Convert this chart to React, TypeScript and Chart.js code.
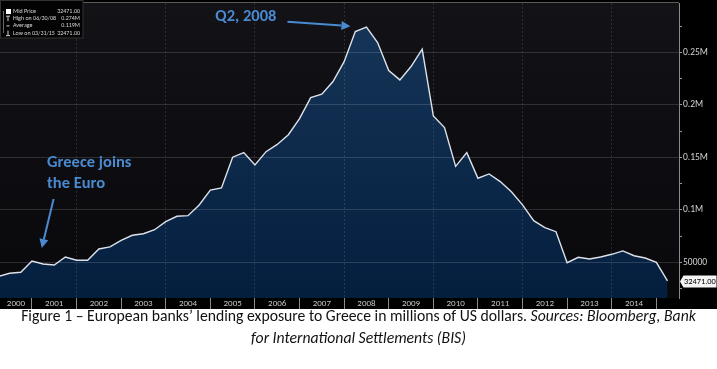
import React, { useEffect, useRef } from 'react';
import { Chart, registerables } from 'chart.js';

Chart.register(...registerables);

// ---------- data ----------
const QUARTERS = [
  '2000 Q1', '2000 Q2', '2000 Q3', '2000 Q4',
  '2001 Q1', '2001 Q2', '2001 Q3', '2001 Q4',
  '2002 Q1', '2002 Q2', '2002 Q3', '2002 Q4',
  '2003 Q1', '2003 Q2', '2003 Q3', '2003 Q4',
  '2004 Q1', '2004 Q2', '2004 Q3', '2004 Q4',
  '2005 Q1', '2005 Q2', '2005 Q3', '2005 Q4',
  '2006 Q1', '2006 Q2', '2006 Q3', '2006 Q4',
  '2007 Q1', '2007 Q2', '2007 Q3', '2007 Q4',
  '2008 Q1', '2008 Q2', '2008 Q3', '2008 Q4',
  '2009 Q1', '2009 Q2', '2009 Q3', '2009 Q4',
  '2010 Q1', '2010 Q2', '2010 Q3', '2010 Q4',
  '2011 Q1', '2011 Q2', '2011 Q3', '2011 Q4',
  '2012 Q1', '2012 Q2', '2012 Q3', '2012 Q4',
  '2013 Q1', '2013 Q2', '2013 Q3', '2013 Q4',
  '2014 Q1', '2014 Q2', '2014 Q3', '2014 Q4',
  '2015 Q1',
];

const EXPOSURE = [
  36700, 39700, 40700, 51400,
  48600, 47600, 55200, 52100,
  52100, 62900, 64800, 71100,
  75900, 77400, 81200, 88900,
  94000, 94600, 104800, 118900,
  121000, 150200, 154600, 142900,
  155500, 162400, 171600, 187000,
  207000, 210200, 222200, 241200,
  269800, 274000, 259300, 232700,
  223800, 236500, 253000, 189500,
  178400, 141500, 154600, 130200,
  134300, 127000, 117400, 104800,
  89800, 83100, 79300, 49800,
  54900, 53300, 55200, 57800,
  61000, 56400, 54300, 50200,
  32471,
];

const YEAR_LABELS = [
  '2000', '2001', '2002', '2003', '2004', '2005', '2006', '2007',
  '2008', '2009', '2010', '2011', '2012', '2013', '2014',
];

// right-axis ticks: every value gets a tick mark, labelled ones are in Y_TICK_LABELS
const Y_TICK_VALUES = [25000, 50000, 75000, 100000, 125000, 150000, 175000, 200000, 225000, 250000, 275000];
const Y_TICK_LABELS: Record<number, string> = {
  50000: '50000',
  100000: '0.1M',
  150000: '0.15M',
  200000: '0.2M',
  250000: '0.25M',
};

const LEGEND_NAMES = ['Mid Price', 'High on 06/30/08', 'Average', 'Low on 03/31/15'];
const LEGEND_VALUES = ['32471.00', '0.274M', '0.119M', '32471.00'];

const NOTE_PEAK_QUARTER = '2008 Q2';
const NOTE_PEAK_TEXT = ['Q2, 2008'];
const NOTE_EURO_QUARTER = '2001 Q1';
const NOTE_EURO_TEXT = ['Greece joins', 'the Euro'];

const CAPTION_MAIN = 'Figure 1 \u2013 European banks\u2019 lending exposure to Greece in millions of US dollars. ';
const CAPTION_SRC_1 = 'Sources: Bloomberg, Bank';
const CAPTION_SRC_2 = 'for International Settlements (BIS)';

// ---------- helpers / styles ----------
const X_MIN = 2000.284;
const X_MAX = 2015.508;
const Y_MIN = 16200;
const Y_MAX = 297000;

const CALIBRI = 'Carlito, Calibri, Lato, sans-serif';
const AXIS_FONT = 'Carlito, Calibri, sans-serif';
const NOTE_COLOR = '#4a8ad0';
const GRID = 'rgba(255,255,255,0.14)';

const toYear = (q: string) => {
  const [y, qq] = q.split(' Q');
  return Number(y) + Number(qq) * 0.25;
};

function drawArrow(ctx: CanvasRenderingContext2D, x1: number, y1: number, x2: number, y2: number) {
  const ang = Math.atan2(y2 - y1, x2 - x1);
  const head = 9;
  const hw = 4.5;
  const bx = x2 - Math.cos(ang) * head;
  const by = y2 - Math.sin(ang) * head;
  ctx.beginPath();
  ctx.moveTo(x1, y1);
  ctx.lineTo(bx, by);
  ctx.stroke();
  ctx.beginPath();
  ctx.moveTo(x2, y2);
  ctx.lineTo(bx + Math.sin(ang) * hw, by - Math.cos(ang) * hw);
  ctx.lineTo(bx - Math.sin(ang) * hw, by + Math.cos(ang) * hw);
  ctx.closePath();
  ctx.fill();
}

const bgPlugin = {
  id: 'bgPlugin',
  beforeDraw(chart: any) {
    const { ctx, chartArea: a, width, height } = chart;
    ctx.save();
    ctx.fillStyle = '#000';
    ctx.fillRect(0, 0, width, height);
    const g = ctx.createLinearGradient(0, a.top, 0, a.bottom);
    g.addColorStop(0, '#121217');
    g.addColorStop(1, '#09090c');
    ctx.fillStyle = g;
    ctx.fillRect(a.left, a.top, a.right - a.left, a.bottom - a.top);
    ctx.restore();
  },
};

const overlayPlugin = {
  id: 'overlayPlugin',
  afterDraw(chart: any) {
    const { ctx, chartArea: a, width } = chart;
    const xs = chart.scales.x;
    const ys = chart.scales.y;
    ctx.save();

    // top frame line
    ctx.strokeStyle = '#5a5a5a';
    ctx.lineWidth = 1;
    ctx.beginPath();
    ctx.moveTo(0, a.top - 0.5);
    ctx.lineTo(a.right, a.top - 0.5);
    ctx.stroke();

    // annotations
    ctx.fillStyle = NOTE_COLOR;
    ctx.strokeStyle = NOTE_COLOR;
    ctx.lineWidth = 2;
    ctx.font = `bold 16.5px ${CALIBRI}`;
    ctx.textBaseline = 'alphabetic';

    const ip = QUARTERS.indexOf(NOTE_PEAK_QUARTER);
    const ppx = xs.getPixelForValue(toYear(QUARTERS[ip]));
    const ppy = ys.getPixelForValue(EXPOSURE[ip]);
    drawArrow(ctx, ppx - 79, ppy - 5.5, ppx - 16, ppy - 1);
    ctx.textAlign = 'right';
    NOTE_PEAK_TEXT.forEach((t, k) => ctx.fillText(t, ppx - 90, ppy - 6 + k * 21));

    const ie = QUARTERS.indexOf(NOTE_EURO_QUARTER);
    const epx = xs.getPixelForValue(toYear(QUARTERS[ie]));
    const epy = ys.getPixelForValue(EXPOSURE[ie]);
    drawArrow(ctx, epx + 10.5, epy - 65, epx - 1.3, epy - 16);
    ctx.textAlign = 'left';
    NOTE_EURO_TEXT.forEach((t, k) => ctx.fillText(t, epx + 4, epy - 97 + k * 21));

    // legend box (top-left)
    ctx.fillStyle = '#030303';
    ctx.fillRect(0, 0, 83, 38);
    ctx.strokeStyle = '#333';
    ctx.lineWidth = 1;
    ctx.strokeRect(0.5, 0.5, 82.5, 37.5);
    ctx.font = `6px ${AXIS_FONT}`;
    ctx.textBaseline = 'middle';
    const rowY = (k: number) => 11.5 + k * 7.2;
    LEGEND_NAMES.forEach((n, k) => {
      ctx.fillStyle = '#d6d6d6';
      ctx.textAlign = 'left';
      ctx.fillText(n, 13, rowY(k));
      ctx.textAlign = 'right';
      ctx.fillText(LEGEND_VALUES[k], 80, rowY(k));
    });
    ctx.fillStyle = '#ffffff';
    ctx.fillRect(6, rowY(0) - 2.5, 5, 5);
    ctx.strokeStyle = '#cfcfcf';
    ctx.lineWidth = 1;
    ctx.beginPath();
    ctx.moveTo(6, rowY(1) - 2.5); ctx.lineTo(10, rowY(1) - 2.5);
    ctx.moveTo(8, rowY(1) - 2.5); ctx.lineTo(8, rowY(1) + 2.5);
    ctx.moveTo(6.5, rowY(2)); ctx.lineTo(9.5, rowY(2));
    ctx.moveTo(8, rowY(3) - 2.5); ctx.lineTo(8, rowY(3) + 2.5);
    ctx.moveTo(6, rowY(3) + 2.5); ctx.lineTo(10, rowY(3) + 2.5);
    ctx.stroke();
    ctx.setLineDash([1, 1]);
    ctx.beginPath();
    ctx.moveTo(3.5, rowY(0)); ctx.lineTo(3.5, rowY(3));
    ctx.stroke();
    ctx.setLineDash([]);

    // last value tag on the right axis
    const lv = EXPOSURE[EXPOSURE.length - 1];
    const ty = Math.round(ys.getPixelForValue(lv)) + 0.5;
    const x0 = ys.left + 1;
    ctx.fillStyle = '#f4f4f4';
    ctx.beginPath();
    ctx.moveTo(x0, ty);
    ctx.lineTo(x0 + 3.5, ty - 6);
    ctx.lineTo(width - 0.5, ty - 6);
    ctx.lineTo(width - 0.5, ty + 6);
    ctx.lineTo(x0 + 3.5, ty + 6);
    ctx.closePath();
    ctx.fill();
    ctx.fillStyle = '#000';
    ctx.font = `8.4px ${AXIS_FONT}`;
    ctx.textAlign = 'right';
    ctx.textBaseline = 'middle';
    ctx.fillText(lv.toFixed(2), width - 1.2, ty + 0.5);

    ctx.restore();
  },
};

export default function App() {
  const ref = useRef<HTMLCanvasElement>(null);

  useEffect(() => {
    const points = QUARTERS.map((q, i) => ({ x: toYear(q), y: EXPOSURE[i] }));
    const chart = new Chart(ref.current as HTMLCanvasElement, {
      type: 'line',
      data: {
        datasets: [
          {
            data: points,
            borderColor: '#dde2ea',
            borderWidth: 1.4,
            pointRadius: 0,
            tension: 0,
            fill: 'start',
            backgroundColor: (c: any) => {
              const area = c.chart.chartArea;
              if (!area) return '#0a2546';
              const g = c.chart.ctx.createLinearGradient(0, area.top, 0, area.bottom);
              g.addColorStop(0, '#173659');
              g.addColorStop(1, '#041e3e');
              return g;
            },
          } as any,
        ],
      },
      options: {
        responsive: false,
        animation: false,
        events: [],
        layout: { padding: { top: 3, left: 0, right: 0, bottom: 0 } },
        plugins: { legend: { display: false }, tooltip: { enabled: false } },
        scales: {
          x: {
            type: 'linear',
            min: X_MIN,
            max: X_MAX,
            afterBuildTicks: (axis: any) => {
              const t: any[] = [];
              YEAR_LABELS.forEach((lab) => {
                const y0 = Number(lab);
                if (y0 >= axis.min) t.push({ value: y0, kind: 'sep' });
                const lo = Math.max(y0, axis.min);
                const hi = Math.min(y0 + 1, axis.max);
                t.push({ value: (lo + hi) / 2, kind: 'label', text: lab });
              });
              const end = Number(YEAR_LABELS[YEAR_LABELS.length - 1]) + 1;
              if (end <= axis.max) t.push({ value: end, kind: 'sep' });
              axis.ticks = t.sort((p, q) => p.value - q.value);
            },
            afterFit: (axis: any) => {
              axis.height = 11;
              axis.paddingLeft = 0;
              axis.paddingRight = 0;
            },
            ticks: {
              autoSkip: false,
              maxRotation: 0,
              minRotation: 0,
              padding: -11,
              color: '#c4c4c4',
              font: { family: AXIS_FONT, size: 9 },
              callback: (_v: any, i: number, ticks: any[]) =>
                ticks[i].kind === 'label' ? ticks[i].text : '',
            },
            grid: {
              z: 1,
              drawOnChartArea: true,
              drawTicks: true,
              tickLength: 11,
              color: (c: any) =>
                c.tick && c.tick.kind === 'sep' && c.tick.value % 2 === 0 ? 'rgba(255,255,255,0.12)' : 'transparent',
              tickColor: (c: any) => (c.tick && c.tick.kind === 'sep' ? '#8c8c8c' : 'transparent'),
            },
            border: { display: false, dash: [2, 2] },
          } as any,
          y: {
            type: 'linear',
            position: 'right',
            min: Y_MIN,
            max: Y_MAX,
            afterBuildTicks: (axis: any) => {
              axis.ticks = Y_TICK_VALUES.map((v) => ({ value: v }));
            },
            afterFit: (axis: any) => {
              axis.width = 38;
              axis.paddingTop = 0;
              axis.paddingBottom = 0;
            },
            ticks: {
              autoSkip: false,
              padding: 1,
              color: '#d2d2d2',
              font: { family: AXIS_FONT, size: 9.5 },
              callback: (v: any) => Y_TICK_LABELS[Number(v)] || '',
            },
            grid: {
              z: 1,
              drawOnChartArea: true,
              drawTicks: true,
              tickLength: 3,
              color: (c: any) => (c.tick && Y_TICK_LABELS[c.tick.value] ? GRID : 'transparent'),
              tickColor: '#9a9a9a',
            },
            border: { display: true, color: '#8a8a8a', width: 1, z: 1 },
          } as any,
        },
      },
      plugins: [bgPlugin, overlayPlugin],
    } as any);
    return () => chart.destroy();
  }, []);

  return (
    <div
      style={{
        position: 'absolute',
        left: 0,
        top: 0,
        width: 717,
        height: 369,
        background: '#fff',
        overflow: 'hidden',
      }}
    >
      <canvas ref={ref} width={717} height={309} style={{ display: 'block', width: 717, height: 309 }} />
      <div
        style={{
          marginTop: -4,
          fontFamily: CALIBRI,
          fontSize: 15.7,
          lineHeight: '22px',
          textAlign: 'center',
          color: '#111',
          whiteSpace: 'nowrap',
        }}
      >
        {CAPTION_MAIN}
        <i>{CAPTION_SRC_1}</i>
        <br />
        <i>{CAPTION_SRC_2}</i>
      </div>
    </div>
  );
}
